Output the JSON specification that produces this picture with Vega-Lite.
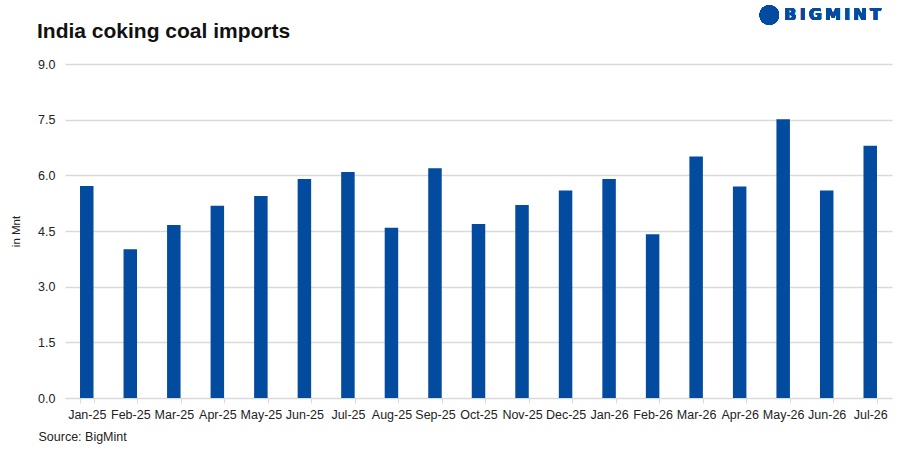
{
  "$schema": "https://vega.github.io/schema/vega-lite/v6.json",
  "autosize": {"type": "none"},
  "padding": {"left": 65, "top": 64, "right": 8, "bottom": 55},
  "width": 827,
  "height": 334,
  "background": "white",
  "title": {
    "text": "India coking coal imports",
    "anchor": "start",
    "frame": "group",
    "dx": -28,
    "offset": -37,
    "fontSize": 21,
    "fontWeight": "bold",
    "font": "Liberation Sans",
    "color": "#111111"
  },
  "config": {
    "view": {"stroke": null},
    "font": "Liberation Sans"
  },
  "data": {
    "values": [
      {"month": "Jan-25", "imports": 5.71},
      {"month": "Feb-25", "imports": 4.01},
      {"month": "Mar-25", "imports": 4.66},
      {"month": "Apr-25", "imports": 5.18},
      {"month": "May-25", "imports": 5.44},
      {"month": "Jun-25", "imports": 5.9},
      {"month": "Jul-25", "imports": 6.09},
      {"month": "Aug-25", "imports": 4.59},
      {"month": "Sep-25", "imports": 6.19},
      {"month": "Oct-25", "imports": 4.69},
      {"month": "Nov-25", "imports": 5.2},
      {"month": "Dec-25", "imports": 5.59},
      {"month": "Jan-26", "imports": 5.9},
      {"month": "Feb-26", "imports": 4.41},
      {"month": "Mar-26", "imports": 6.51},
      {"month": "Apr-26", "imports": 5.7},
      {"month": "May-26", "imports": 7.51},
      {"month": "Jun-26", "imports": 5.59},
      {"month": "Jul-26", "imports": 6.8}
    ]
  },
  "layer": [
    {
      "mark": {"type": "bar", "color": "#024b9f"},
      "encoding": {
        "x": {
          "field": "month",
          "type": "nominal",
          "sort": null,
          "scale": {"paddingInner": 0.69, "paddingOuter": 0.345},
          "axis": {
            "title": "Source: BigMint",
            "titleAnchor": "start",
            "titleAlign": "left",
            "titleX": -27,
            "titleY": 32,
            "titleFontSize": 12.5,
            "titleFontWeight": "normal",
            "titleColor": "#222222",
            "labelAngle": 0,
            "labelFontSize": 12.5,
            "labelColor": "#222222",
            "labelPadding": 5,
            "domainColor": "#d9d9d9",
            "tickColor": "#d9d9d9",
            "tickBand": "extent",
            "tickSize": 5,
            "grid": false
          }
        },
        "y": {
          "field": "imports",
          "type": "quantitative",
          "scale": {"domain": [0, 9]},
          "axis": {
            "title": "in Mnt",
            "titleFontSize": 11.5,
            "titleFontWeight": "normal",
            "titleColor": "#222222",
            "titlePadding": 16,
            "values": [0, 1.5, 3, 4.5, 6, 7.5, 9],
            "format": ".1f",
            "labelFontSize": 12.5,
            "labelColor": "#222222",
            "labelPadding": 10,
            "domain": false,
            "ticks": false,
            "gridColor": "#d9d9d9",
            "gridWidth": 1.5
          }
        }
      }
    },
    {
      "mark": {"type": "circle", "color": "#024b9f", "size": 380, "yOffset": -49, "xOffset": -101},
      "encoding": {
        "x": {"datum": "Jul-26", "type": "nominal"},
        "y": {"datum": 9, "type": "quantitative"}
      }
    },
    {
      "mark": {"type": "text", "text": "B\u2009I\u2009G\u2009M\u2009I\u2009N\u2009T", "color": "#024b9f", "font": "DejaVu Sans", "fontWeight": "bold", "fontSize": 16, "align": "left", "baseline": "middle", "yOffset": -49, "xOffset": -86},
      "encoding": {
        "x": {"datum": "Jul-26", "type": "nominal"},
        "y": {"datum": 9, "type": "quantitative"}
      }
    }
  ]
}
